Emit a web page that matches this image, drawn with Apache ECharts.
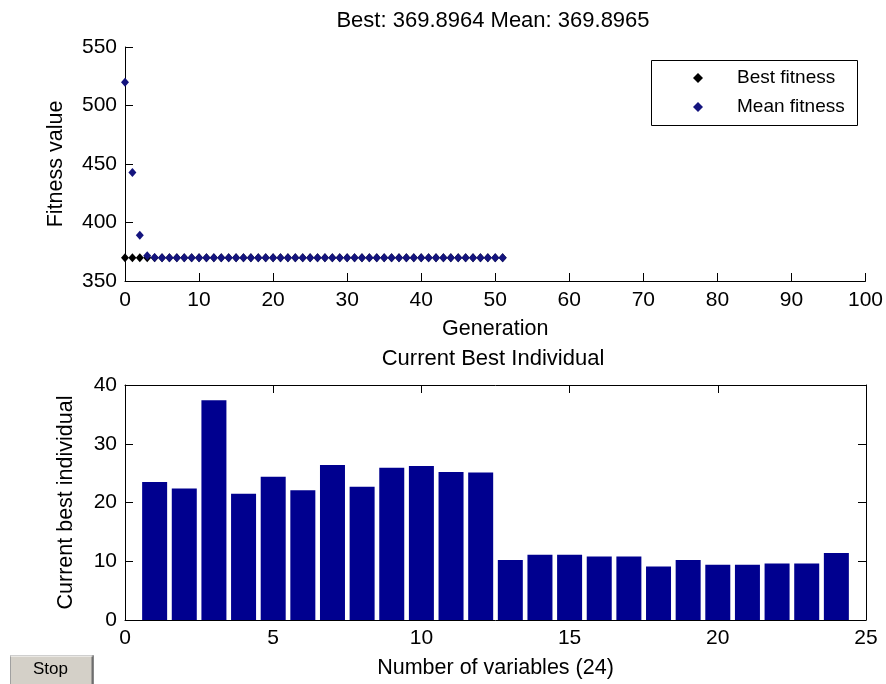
<!DOCTYPE html>
<html>
<head>
<meta charset="utf-8">
<script src="https://cdn.jsdelivr.net/npm/echarts@6/dist/echarts.min.js"></script>
<style>
html,body{margin:0;padding:0;background:#fff;}
#c{width:886px;height:684px;}
</style>
</head>
<body>
<div id="c"></div>
<script>
// ---- data ----
var generations = [0,1,2,3,4,5,6,7,8,9,10,11,12,13,14,15,16,17,18,19,20,21,22,23,24,25,26,27,28,29,30,31,32,33,34,35,36,37,38,39,40,41,42,43,44,45,46,47,48,49,50,51];
var bestFitness = [369.8964,369.8964,369.8964,369.8964,369.8964,369.8964,369.8964,369.8964,369.8964,369.8964,
  369.8964,369.8964,369.8964,369.8964,369.8964,369.8964,369.8964,369.8964,369.8964,369.8964,
  369.8964,369.8964,369.8964,369.8964,369.8964,369.8964,369.8964,369.8964,369.8964,369.8964,
  369.8964,369.8964,369.8964,369.8964,369.8964,369.8964,369.8964,369.8964,369.8964,369.8964,
  369.8964,369.8964,369.8964,369.8964,369.8964,369.8964,369.8964,369.8964,369.8964,369.8964,
  369.8964,369.8964];
var meanFitness = [519.9,442.8,389.0,371.5,370.0,369.9,369.9,369.9,369.9,369.9,
  369.9,369.9,369.9,369.9,369.9,369.9,369.9,369.9,369.9,369.9,
  369.9,369.9,369.9,369.9,369.9,369.9,369.9,369.9,369.9,369.9,
  369.9,369.9,369.9,369.9,369.9,369.9,369.9,369.9,369.9,369.9,
  369.9,369.9,369.9,369.9,369.9,369.9,369.9,369.9,369.9,369.9,
  369.9,369.8965];
var variableIndex = [1,2,3,4,5,6,7,8,9,10,11,12,13,14,15,16,17,18,19,20,21,22,23,24];
var bestIndividual = [23.5,22.4,37.4,21.5,24.4,22.1,26.4,22.7,25.9,26.2,25.2,25.1,
  10.2,11.1,11.1,10.8,10.8,9.1,10.2,9.4,9.4,9.6,9.6,11.4];
var topTitle = 'Best: 369.8964 Mean: 369.8965';
var bottomTitle = 'Current Best Individual';
var seriesNames = ['Best fitness','Mean fitness'];

// ---- chart ----
var FONT = '"Liberation Sans", Arial, sans-serif';
var chart = echarts.init(document.getElementById('c'), null, {renderer:'canvas'});

function pairs(xs, ys){ return xs.map(function(x,i){ return [x, ys[i]]; }); }

var axisLine = {show:true, onZero:false, lineStyle:{color:'#000', width:1}};
var tick = {show:true, inside:true, length:8, lineStyle:{color:'#000', width:1}};
var lbl = {color:'#000', fontFamily:FONT, fontSize:21};
var nameStyle = {color:'#000', fontFamily:FONT, fontSize:21.5};

var option = {
  backgroundColor:'#ffffff',
  animation:false,
  title:[
    {text:topTitle, left:493, textAlign:'center', top:8, padding:0,
     textStyle:{color:'#000', fontFamily:FONT, fontSize:22, fontWeight:'normal', lineHeight:26}},
    {text:bottomTitle, left:493, textAlign:'center', top:346, padding:0,
     textStyle:{color:'#000', fontFamily:FONT, fontSize:22, fontWeight:'normal', lineHeight:26}}
  ],
  legend:{
    data:seriesNames,
    orient:'vertical',
    left:693, top:68,
    padding:0,
    itemWidth:10, itemHeight:10, itemGap:9,
    textStyle:{color:'#000', fontFamily:FONT, fontSize:19, lineHeight:20, padding:[0,0,0,29]},
    selectedMode:false
  },
  grid:[
    {left:125, top:47, width:742, height:234},
    {left:125, top:385, width:741, height:235}
  ],
  xAxis:[
    {type:'value', gridIndex:0, min:0, max:100, interval:10, position:'bottom',
     axisLine:axisLine, axisTick:tick, axisLabel:Object.assign({margin:9}, lbl),
     splitLine:{show:false}, name:'Generation', nameLocation:'middle', nameGap:37,
     nameTextStyle:nameStyle},
    {type:'value', gridIndex:1, min:0, max:25, interval:5, position:'bottom',
     axisLine:axisLine, axisTick:tick, axisLabel:Object.assign({margin:8}, lbl),
     splitLine:{show:false}, name:'Number of variables (24)', nameLocation:'middle', nameGap:37,
     nameTextStyle:nameStyle},
    {type:'value', gridIndex:1, min:0, max:25, interval:5, position:'top',
     axisLine:axisLine, axisTick:tick, axisLabel:{show:false}, splitLine:{show:false}}
  ],
  yAxis:[
    {type:'value', gridIndex:0, min:350, max:550, interval:50, position:'left',
     axisLine:axisLine, axisTick:tick, axisLabel:Object.assign({margin:8}, lbl),
     splitLine:{show:false}, name:'Fitness value', nameLocation:'middle', nameGap:58,
     nameRotate:90, nameTextStyle:nameStyle},
    {type:'value', gridIndex:1, min:0, max:40, interval:10, position:'left',
     axisLine:axisLine, axisTick:tick, axisLabel:Object.assign({margin:8}, lbl),
     splitLine:{show:false}, name:'Current best individual', nameLocation:'middle', nameGap:48,
     nameRotate:90, nameTextStyle:nameStyle},
    {type:'value', gridIndex:1, min:0, max:40, interval:10, position:'right',
     axisLine:axisLine, axisTick:tick, axisLabel:{show:false}, splitLine:{show:false}}
  ],
  series:[
    {name:seriesNames[0], type:'scatter', xAxisIndex:0, yAxisIndex:0,
     data:pairs(generations, bestFitness), symbol:'diamond', symbolSize:[8,9],
     itemStyle:{color:'#000000', opacity:1}, clip:false},
    {name:seriesNames[1], type:'scatter', xAxisIndex:0, yAxisIndex:0,
     data:pairs(generations, meanFitness), symbol:'diamond', symbolSize:[8,9],
     itemStyle:{color:'#14147e', opacity:1}, clip:false},
    {name:'Current best individual', type:'bar', xAxisIndex:1, yAxisIndex:1,
     data:pairs(variableIndex, bestIndividual), barWidth:25,
     itemStyle:{color:'#00008F'}}
  ],
  graphic:[
    {type:'rect', left:649, top:58, shape:{width:206, height:65},
     style:{fill:'none', stroke:'#000', lineWidth:1}, z:100},
    {type:'group', left:8, top:653, children:[
      {type:'rect', shape:{x:0, y:0, width:83, height:34},
       style:{fill:'#d4d0c8', stroke:'#a0a0a0', lineWidth:1}},
      {type:'line', shape:{x1:82, y1:0, x2:82, y2:34}, style:{stroke:'#6e6e6e', lineWidth:2}},
      {type:'line', shape:{x1:0, y1:0.5, x2:82, y2:0.5}, style:{stroke:'#ffffff', lineWidth:1}},
      {type:'text', x:40, y:14, style:{text:'Stop', fill:'#000', font:'17px ' + FONT,
        textAlign:'center', textVerticalAlign:'middle'}}
    ]}
  ]
};
chart.setOption(option);
</script>
</body>
</html>
